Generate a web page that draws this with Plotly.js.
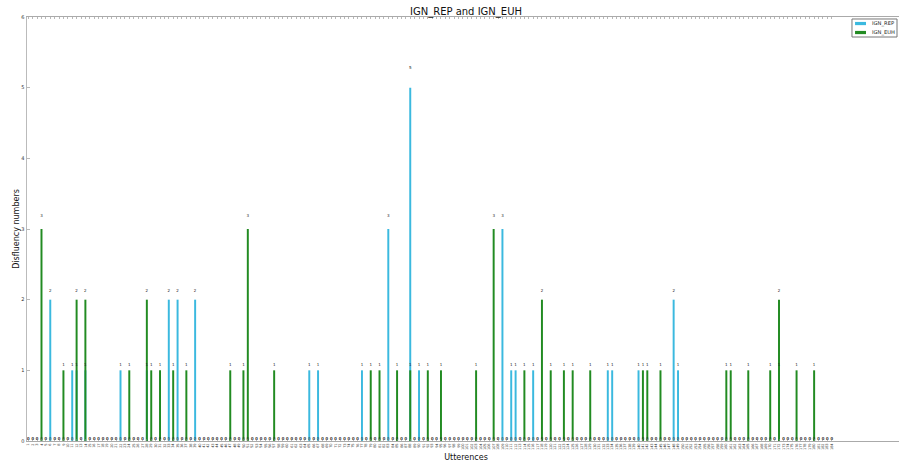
<!DOCTYPE html>
<html>
<head>
<meta charset="utf-8">
<script src="https://cdn.plot.ly/plotly-3.0.1.min.js"></script>
<style>
html,body{margin:0;padding:0;overflow:hidden;background:#fff;width:899px;height:464px;}
#chart{width:907px;height:464px;}
</style>
</head>
<body>
<div id="chart"></div>
<script>
// Utterance numbers (categories)
var N_UTT = 184;
var utterances = [];
for (var i = 1; i <= N_UTT; i++) utterances.push(String(i));

// Non-zero readings (utterance index -> count), everything else is 0
var repIndex  = [5, 10, 11, 13, 21, 27, 32, 34, 38, 64, 66, 76, 82, 87, 89, 108, 110, 111, 115, 132, 133, 139, 147, 148, 171];
var repValues = [2, 1, 1, 1, 1, 1, 2, 2, 2, 1, 1, 1, 3, 5, 1, 3, 1, 1, 1, 1, 1, 1, 2, 1, 1];

var euhIndex  = [3, 8, 11, 13, 23, 27, 28, 30, 33, 36, 46, 49, 50, 56, 78, 80, 84, 87, 91, 94, 102, 106, 113, 117, 119, 122, 124, 128, 140, 141, 144, 159, 160, 164, 169, 171, 175, 179];
var euhValues = [3, 1, 2, 2, 1, 2, 1, 1, 1, 1, 1, 1, 3, 1, 1, 1, 1, 1, 1, 1, 1, 3, 1, 2, 1, 1, 1, 1, 1, 1, 1, 1, 1, 1, 1, 2, 1, 1];

var seriesNames = ['IGN_REP', 'IGN_EUH'];
var yTicks = [0, 1, 2, 3, 4, 5, 6];

function fullSeries(idx, vals) {
  var arr = [];
  for (var i = 0; i < N_UTT; i++) arr.push(0);
  for (var j = 0; j < idx.length; j++) arr[idx[j]] = vals[j];
  return arr;
}
var IGN_REP = fullSeries(repIndex, repValues);
var IGN_EUH = fullSeries(euhIndex, euhValues);

var BLUE = '#3bb9df', GREEN = '#228b22';
var colors = [BLUE, GREEN];

function labelTrace(vals) {
  return {
    type: 'scatter', mode: 'text', x: utterances,
    y: vals.map(function (v) { return v * 1.05; }),
    text: vals.map(function (v) { return String(v); }),
    textposition: 'top center',
    textfont: {family: 'DejaVu Sans', size: 4, color: '#222'},
    showlegend: false, hoverinfo: 'skip', cliponaxis: false
  };
}

var data = [
  {type: 'bar', name: seriesNames[0], x: utterances, y: IGN_REP, width: 0.45,
   marker: {color: BLUE, line: {width: 0}}},
  {type: 'bar', name: seriesNames[1], x: utterances, y: IGN_EUH, width: 0.45,
   marker: {color: GREEN, line: {width: 0}}},
  labelTrace(IGN_REP),
  labelTrace(IGN_EUH)
];

// compact legend box in the upper-right corner of the axes (paper coordinates)
var legX0 = 0.9396, legX1 = 0.9909, legY0 = 0.9528, legY1 = 0.9953;
var shapes = [{type: 'rect', xref: 'paper', yref: 'paper', x0: legX0, x1: legX1, y0: legY0, y1: legY1,
               line: {color: '#777', width: 1}, fillcolor: '#fff', layer: 'above'}];
var annotations = [];
seriesNames.forEach(function (nm, k) {
  var yc = 0.9846 - k * 0.0212;
  shapes.push({type: 'rect', xref: 'paper', yref: 'paper', x0: 0.9431, x1: 0.9556,
               y0: yc - 0.0038, y1: yc + 0.0038, line: {width: 0}, fillcolor: colors[k], layer: 'above'});
  annotations.push({xref: 'paper', yref: 'paper', x: 0.9596, y: yc, xanchor: 'left', yanchor: 'middle',
                    text: nm, showarrow: false, font: {family: 'DejaVu Sans', size: 5.2, color: '#222'}});
});

var layout = {
  width: 907, height: 464,
  margin: {l: 27, r: 2, t: 17, b: 23, pad: 0},
  paper_bgcolor: '#fff', plot_bgcolor: '#fff',
  barmode: 'overlay',
  font: {family: 'DejaVu Sans', color: '#222'},
  title: {text: 'IGN_REP and IGN_EUH', font: {family: 'DejaVu Sans', size: 10, color: '#111'},
          x: 0.5, xref: 'paper', xanchor: 'center', y: 0.976, yanchor: 'middle'},
  xaxis: {
    type: 'category', range: [-0.3, 199.7],
    showgrid: false, zeroline: false,
    showline: true, linecolor: '#aaa', linewidth: 1, mirror: 'ticks',
    ticks: 'inside', ticklen: 2, tickcolor: '#888', tickwidth: 0.6,
    tickangle: -90, tickfont: {family: 'DejaVu Sans', size: 3.5, color: '#333'},
    title: {text: 'Utterences', font: {family: 'DejaVu Sans', size: 8, color: '#111'}, standoff: 5},
    automargin: false
  },
  yaxis: {
    range: [0, 6], tickvals: yTicks, ticktext: yTicks.map(String),
    showgrid: false, zeroline: false,
    showline: true, linecolor: '#bbb', linewidth: 1.5, mirror: 'ticks',
    ticks: 'inside', ticklen: 3, tickcolor: '#888', tickwidth: 0.6,
    tickfont: {family: 'DejaVu Sans', size: 5, color: '#333'},
    title: {text: 'Disfluency numbers', font: {family: 'DejaVu Sans', size: 8, color: '#111'}, standoff: 0},
    automargin: false
  },
  shapes: shapes,
  annotations: annotations,
  showlegend: false
};

Plotly.newPlot('chart', data, layout, {staticPlot: true, displayModeBar: false});
</script>
</body>
</html>
